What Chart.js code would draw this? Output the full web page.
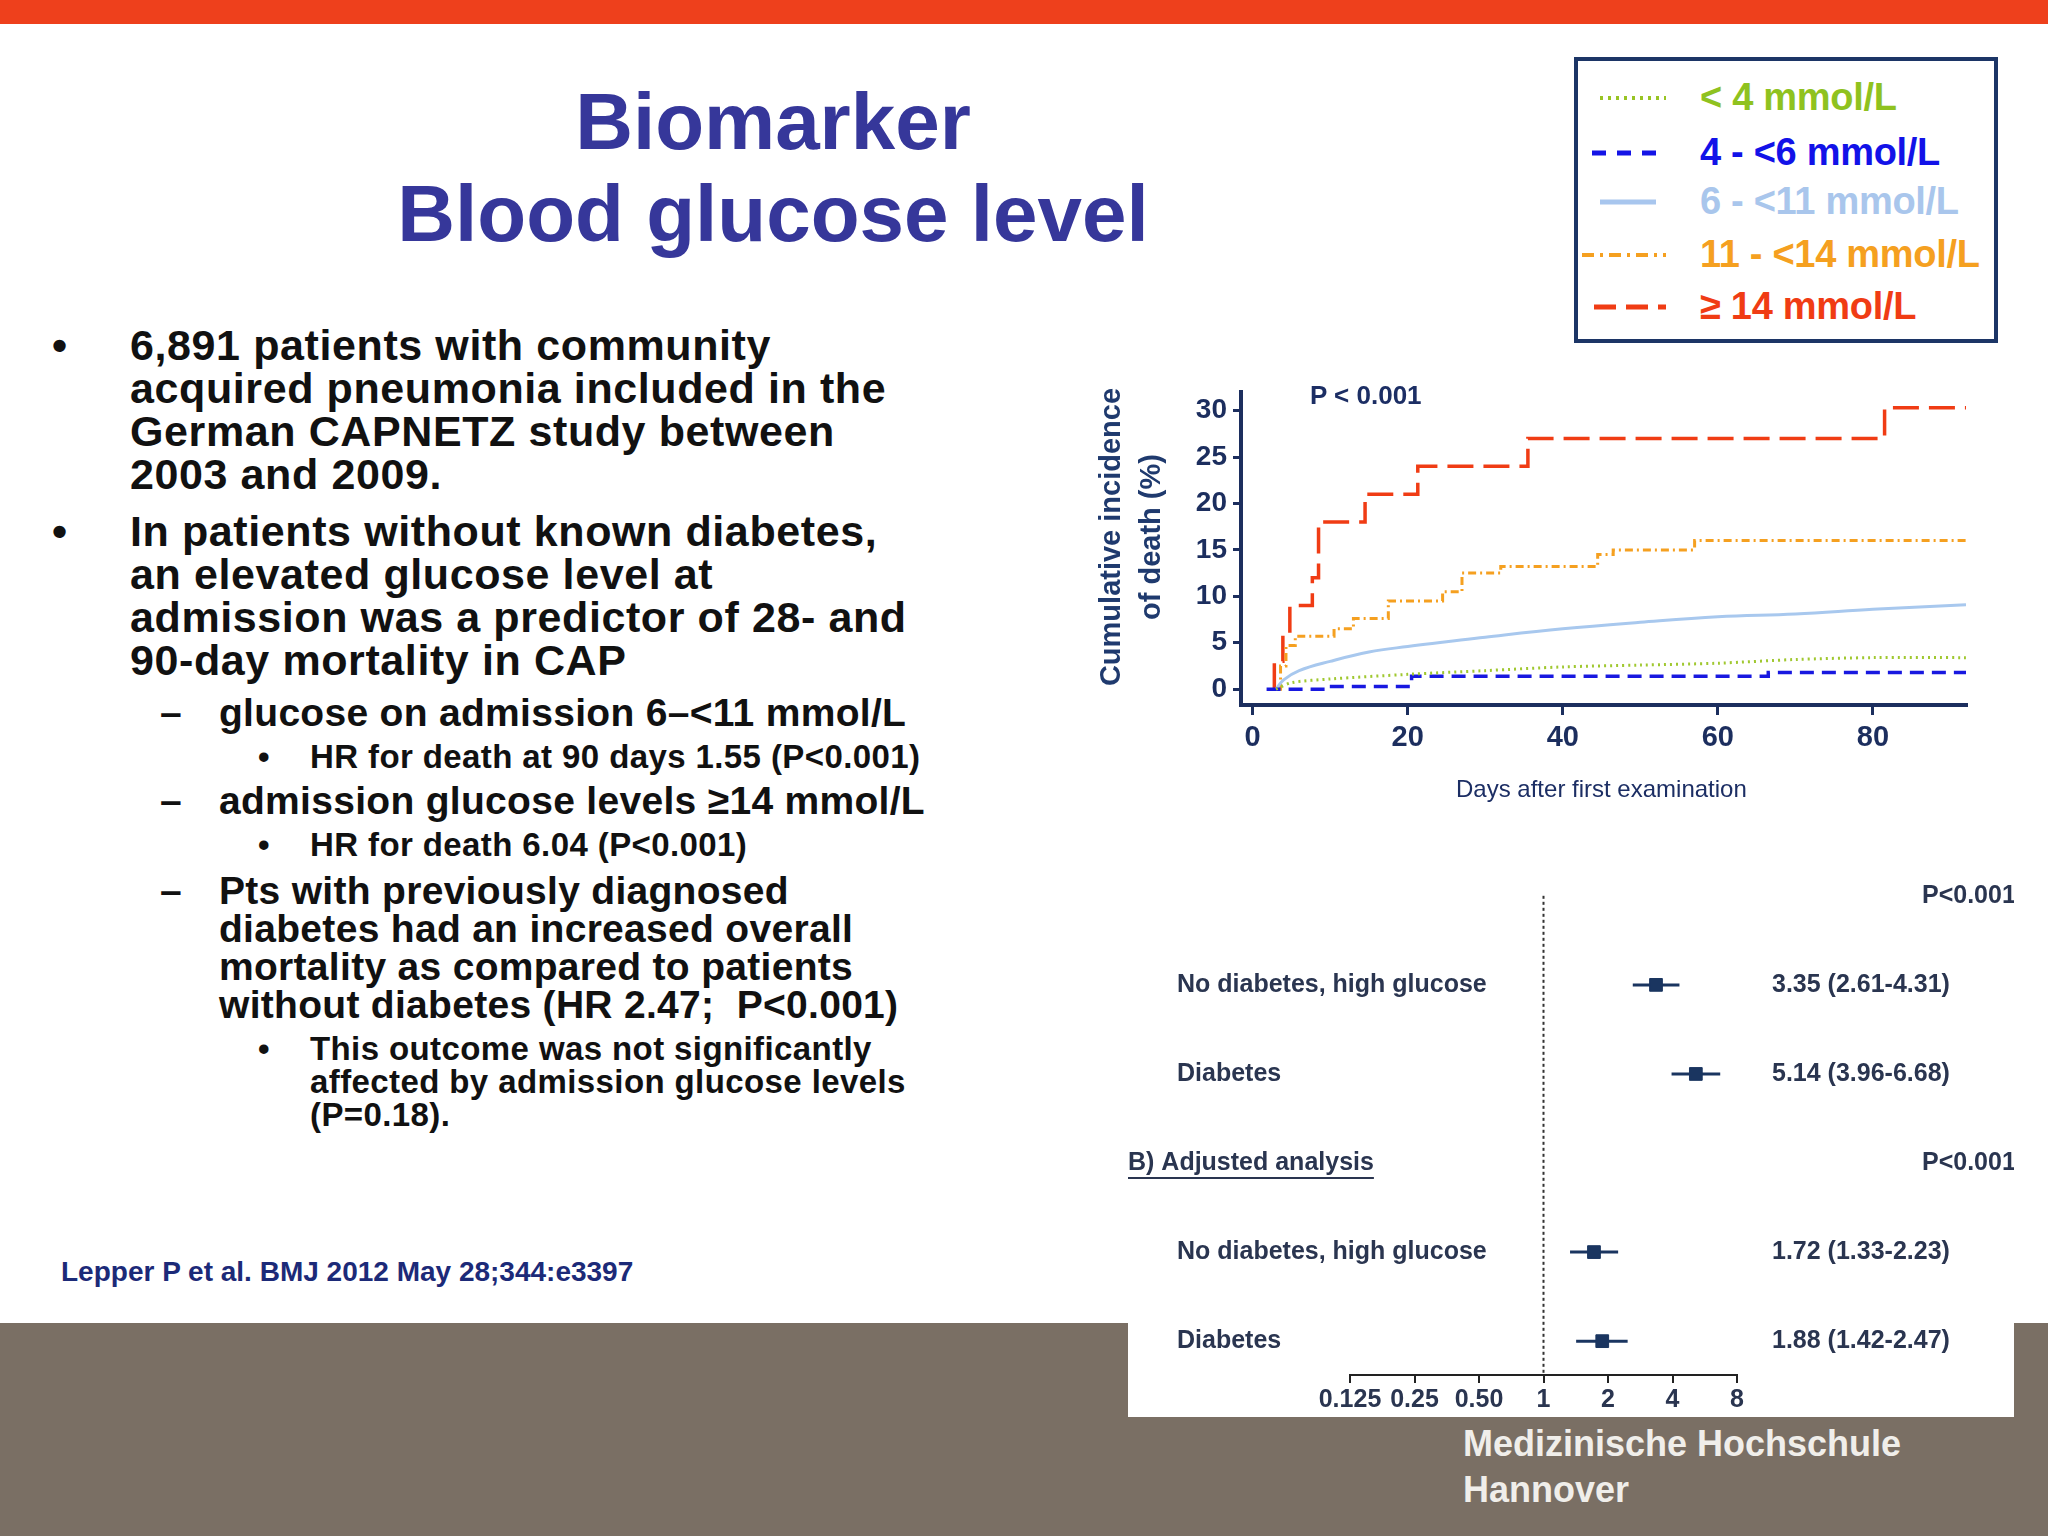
<!DOCTYPE html>
<html>
<head>
<meta charset="utf-8">
<script src="https://cdn.jsdelivr.net/npm/chart.js@4/dist/chart.umd.min.js"></script>
<style>
  body { margin: 0; width: 2048px; height: 1536px; position: relative; background: #fff; overflow: hidden;
         font-family: "Liberation Sans", Arial, sans-serif; }
  .abs { position: absolute; white-space: nowrap; }
  .topbar { left: 0; top: 0; width: 2048px; height: 24px; background: #ee401c; }
  .title { left: 373px; width: 800px; text-align: center; color: #36379a; font-weight: bold; font-size: 80px; }
  .b1 { font-size: 43px; line-height: 43px; font-weight: bold; color: #111; letter-spacing: 0.6px; }
  .b2 { font-size: 39px; line-height: 38px; font-weight: bold; color: #111; letter-spacing: 0.3px; }
  .b3 { font-size: 33px; line-height: 33px; font-weight: bold; color: #111; letter-spacing: 0.4px; }
  .footer { left: 0; top: 1323px; width: 2048px; height: 213px; background: #7a6f64; }
  .mhh { left: 1463px; color: #f0eeea; font-size: 36px; font-weight: bold; }
  .legend { left: 1574px; top: 57px; width: 424px; height: 286px; border: 4px solid #1c3566; box-sizing: border-box; }
  .lg { font-size: 38px; font-weight: bold; letter-spacing: -0.3px; }
</style>
</head>
<body>
<div class="abs topbar"></div>
<div class="abs title" style="top:76px">Biomarker</div>
<div class="abs title" style="top:168px">Blood glucose level</div>

<div class="abs b1" style="left:52px;top:324px">•</div>
<div class="abs b1" style="left:130px;top:324px">6,891 patients with community<br>acquired pneumonia included in the<br>German CAPNETZ study between<br>2003 and 2009.</div>
<div class="abs b1" style="left:52px;top:510px">•</div>
<div class="abs b1" style="left:130px;top:510px">In patients without known diabetes,<br>an elevated glucose level at<br>admission was a predictor of 28- and<br>90-day mortality in CAP</div>
<div class="abs b2" style="left:160px;top:694px">–</div>
<div class="abs b2" style="left:219px;top:694px">glucose on admission 6–&lt;11 mmol/L</div>
<div class="abs b3" style="left:258px;top:740px">•</div>
<div class="abs b3" style="left:310px;top:740px">HR for death at 90 days 1.55 (P&lt;0.001)</div>
<div class="abs b2" style="left:160px;top:782px">–</div>
<div class="abs b2" style="left:219px;top:782px">admission glucose levels ≥14 mmol/L</div>
<div class="abs b3" style="left:258px;top:828px">•</div>
<div class="abs b3" style="left:310px;top:828px">HR for death 6.04 (P&lt;0.001)</div>
<div class="abs b2" style="left:160px;top:872px">–</div>
<div class="abs b2" style="left:219px;top:872px">Pts with previously diagnosed<br>diabetes had an increased overall<br>mortality as compared to patients<br>without diabetes (HR 2.47;&nbsp; P&lt;0.001)</div>
<div class="abs b3" style="left:258px;top:1032px">•</div>
<div class="abs b3" style="left:310px;top:1032px">This outcome was not significantly<br>affected by admission glucose levels<br>(P=0.18).</div>

<div class="abs" style="left:61px;top:1256px;font-size:28px;font-weight:bold;color:#1c2a78">Lepper P et al. BMJ 2012 May 28;344:e3397</div>

<div class="abs footer"></div>
<div class="abs mhh" style="top:1423px">Medizinische Hochschule</div>
<div class="abs mhh" style="top:1469px">Hannover</div>

<!-- legend -->
<div class="abs legend"></div>
<svg class="abs" style="left:1580px;top:64px" width="110" height="280">
  <line x1="20" y1="34" x2="86" y2="34" stroke="#98c424" stroke-width="4" stroke-dasharray="3,5"/>
  <line x1="12" y1="89" x2="86" y2="89" stroke="#1414e6" stroke-width="5" stroke-dasharray="14,11"/>
  <line x1="20" y1="138" x2="76" y2="138" stroke="#a8c6ee" stroke-width="5"/>
  <line x1="2" y1="191" x2="86" y2="191" stroke="#f5a020" stroke-width="4" stroke-dasharray="12,6,3,6"/>
  <line x1="14" y1="243" x2="86" y2="243" stroke="#f03c14" stroke-width="5" stroke-dasharray="22,10"/>
</svg>
<div class="abs lg" style="left:1700px;top:76px;color:#8fc21f">&lt; 4 mmol/L</div>
<div class="abs lg" style="left:1700px;top:131px;color:#1212e8">4 - &lt;6 mmol/L</div>
<div class="abs lg" style="left:1700px;top:180px;color:#a9c6ec">6 - &lt;11 mmol/L</div>
<div class="abs lg" style="left:1700px;top:233px;color:#f5a020">11 - &lt;14 mmol/L</div>
<div class="abs lg" style="left:1700px;top:285px;color:#f03c14">≥ 14 mmol/L</div>

<!-- KM chart -->
<div class="abs" style="left:1084px;top:366px;width:900px;height:450px"><canvas id="km"></canvas></div>
<div class="abs" style="left:1090px;top:707px;transform:rotate(-90deg);transform-origin:0 0;text-align:center;width:340px;font-size:29px;font-weight:bold;color:#1f3a6e;line-height:40px">Cumulative incidence<br>of death (%)</div>
<div class="abs" style="left:1310px;top:380px;font-size:26px;font-weight:bold;color:#1c2e64">P &lt; 0.001</div>
<div class="abs" style="left:1456px;top:775px;font-size:24px;color:#1c2e64">Days after first examination</div>

<!-- forest plot -->
<div class="abs" style="left:1128px;top:868px;width:886px;height:549px;background:#fff"><canvas id="forest"></canvas></div>

<script>
// Kaplan-Meier curves (days, cumulative incidence %)
const kmDays = {
  lt4:   [3, 5, 10, 20, 30, 40, 50, 60, 70, 80, 92],
  g4to6: [1.8, 9.5, 20.5, 66.5, 92],
  g6to11:[3, 4, 6, 10, 15, 20, 25, 30, 40, 50, 60, 70, 80, 92],
  g11to14:[3.3, 3.6, 4.3, 5.5, 10.5, 13, 17.5, 24.5, 27, 32, 44.5, 46.5, 57, 92],
  ge14:  [2.8, 2.8, 3.9, 4.8, 7.7, 8.5, 14.5, 21.3, 35.5, 81.5, 92]
};
const kmPct = {
  lt4:   [0, 0.7, 1.1, 1.6, 2.0, 2.4, 2.6, 2.8, 3.2, 3.4, 3.4],
  g4to6: [0, 0.3, 1.4, 1.8, 1.8],
  g6to11:[0, 1, 2, 3, 4, 4.6, 5.1, 5.6, 6.5, 7.2, 7.8, 8.1, 8.6, 9.1],
  g11to14:[0, 2.5, 4.7, 5.7, 6.5, 7.6, 9.5, 10.5, 12.5, 13.2, 14.5, 15, 16, 16],
  ge14:  [0, 3, 6, 9, 12, 18, 21, 24, 27, 30.3, 30.3]
};
const xTicks = [0, 20, 40, 60, 80];
const yTicks = [0, 5, 10, 15, 20, 25, 30];

// forest plot rows
const rowLabels = ['No diabetes, high glucose', 'Diabetes', 'No diabetes, high glucose', 'Diabetes'];
const rowPos = [1, 2, 4, 5];
const hr = [3.35, 5.14, 1.72, 1.88];
const hrLo = [2.61, 3.96, 1.33, 1.42];
const hrHi = [4.31, 6.68, 2.23, 2.47];
const hrText = ['3.35 (2.61-4.31)', '5.14 (3.96-6.68)', '1.72 (1.33-2.23)', '1.88 (1.42-2.47)'];
const forestTicks = [0.125, 0.25, 0.5, 1, 2, 4, 8];
const forestTickText = ['0.125', '0.25', '0.50', '1', '2', '4', '8'];

const navy = '#1c2e5e';
const pts = (k) => kmDays[k].map((d, i) => ({ x: d, y: kmPct[k][i] }));

new Chart(document.getElementById('km').getContext('2d'), {
  type: 'line',
  data: {
    datasets: [
      { data: pts('lt4'), borderColor: '#a0c830', borderWidth: 3, borderDash: [2, 4], tension: 0.3 },
      { data: pts('g4to6'), borderColor: '#1818e0', borderWidth: 3.5, borderDash: [14, 8], stepped: true },
      { data: pts('g6to11'), borderColor: '#a8c8ee', borderWidth: 3, tension: 0.4 },
      { data: pts('g11to14'), borderColor: '#f5a020', borderWidth: 3, borderDash: [8, 4, 2, 4], stepped: true },
      { data: pts('ge14'), borderColor: '#f03c14', borderWidth: 3.5, borderDash: [26, 10], stepped: true }
    ]
  },
  options: {
    responsive: true, maintainAspectRatio: false, animation: false,
    elements: { point: { radius: 0 } },
    layout: { padding: { top: 26, right: 18 } },
    plugins: { legend: { display: false }, tooltip: { enabled: false } },
    scales: {
      x: {
        type: 'linear', min: -1.5, max: 92,
        afterBuildTicks: (s) => { s.ticks = xTicks.map(v => ({ value: v })); },
        afterFit: (s) => { s.height = 111; },
        border: { color: navy, width: 4 },
        grid: { drawOnChartArea: false, color: navy, lineWidth: 3, tickLength: 10 },
        ticks: { color: navy, font: { size: 29, weight: 'bold', family: 'Liberation Sans' }, padding: 6 }
      },
      y: {
        min: -1.7, max: 32,
        afterBuildTicks: (s) => { s.ticks = yTicks.map(v => ({ value: v })); },
        afterFit: (s) => { s.width = 157; },
        border: { color: navy, width: 4 },
        grid: { drawOnChartArea: false, color: navy, lineWidth: 3, tickLength: 8 },
        ticks: { color: navy, font: { size: 28, weight: 'bold', family: 'Liberation Sans' }, padding: 6 }
      }
    }
  }
});

const forestDraw = {
  id: 'forestDraw',
  beforeDatasetsDraw(chart) {
    const { ctx, scales: { x, y } } = chart;
    ctx.save();
    // reference line at HR = 1
    ctx.strokeStyle = '#333'; ctx.lineWidth = 2; ctx.setLineDash([3, 3]);
    ctx.beginPath(); ctx.moveTo(x.getPixelForValue(1), y.getPixelForValue(0)); ctx.lineTo(x.getPixelForValue(1), y.bottom); ctx.stroke();
    ctx.setLineDash([]);
    ctx.strokeStyle = '#1a3560'; ctx.lineWidth = 3;
    rowPos.forEach((r, i) => {
      const py = y.getPixelForValue(r);
      ctx.beginPath(); ctx.moveTo(x.getPixelForValue(hrLo[i]), py); ctx.lineTo(x.getPixelForValue(hrHi[i]), py); ctx.stroke();
    });
    ctx.restore();
  },
  afterDraw(chart) {
    const { ctx, scales: { y } } = chart;
    ctx.save();
    ctx.fillStyle = '#2a3550';
    ctx.font = 'bold 25px "Liberation Sans"';
    ctx.textBaseline = 'middle';
    ctx.textAlign = 'left';
    rowPos.forEach((r, i) => {
      const py = y.getPixelForValue(r);
      ctx.fillText(rowLabels[i], 49, py);
      ctx.fillText(hrText[i], 644, py);
    });
    ctx.fillText('P<0.001', 794, y.getPixelForValue(0));
    ctx.fillText('P<0.001', 794, y.getPixelForValue(3));
    const ty = y.getPixelForValue(3);
    ctx.fillText('B) Adjusted analysis', 0, ty);
    const w = ctx.measureText('B) Adjusted analysis').width;
    ctx.strokeStyle = '#2a3550'; ctx.lineWidth = 2;
    ctx.beginPath(); ctx.moveTo(0, ty + 15); ctx.lineTo(w, ty + 15); ctx.stroke();
    ctx.restore();
  }
};

new Chart(document.getElementById('forest').getContext('2d'), {
  type: 'scatter',
  data: {
    datasets: [{
      data: hr.map((v, i) => ({ x: v, y: rowPos[i] })),
      pointStyle: 'rect', pointRadius: 9, backgroundColor: '#1a3560', borderColor: '#1a3560'
    }]
  },
  options: {
    responsive: true, maintainAspectRatio: false, animation: false,
    layout: { padding: { left: 222, right: 277, top: 3 } },
    plugins: { legend: { display: false }, tooltip: { enabled: false } },
    scales: {
      x: {
        type: 'logarithmic', min: 0.125, max: 8,
        afterBuildTicks: (s) => { s.ticks = forestTicks.map(v => ({ value: v })); },
        afterFit: (s) => { s.height = 42; },
        border: { color: '#222', width: 2 },
        grid: { drawOnChartArea: false, color: '#222', lineWidth: 2, tickLength: 8 },
        ticks: {
          color: '#2a3550', font: { size: 25, weight: 'bold', family: 'Liberation Sans' }, padding: 2,
          autoSkip: false, maxRotation: 0,
          callback: (v) => forestTickText[forestTicks.indexOf(v)]
        }
      },
      y: { display: false, reverse: true, min: -0.2, max: 5.38 }
    }
  },
  plugins: [forestDraw]
});
</script>
</body>
</html>
